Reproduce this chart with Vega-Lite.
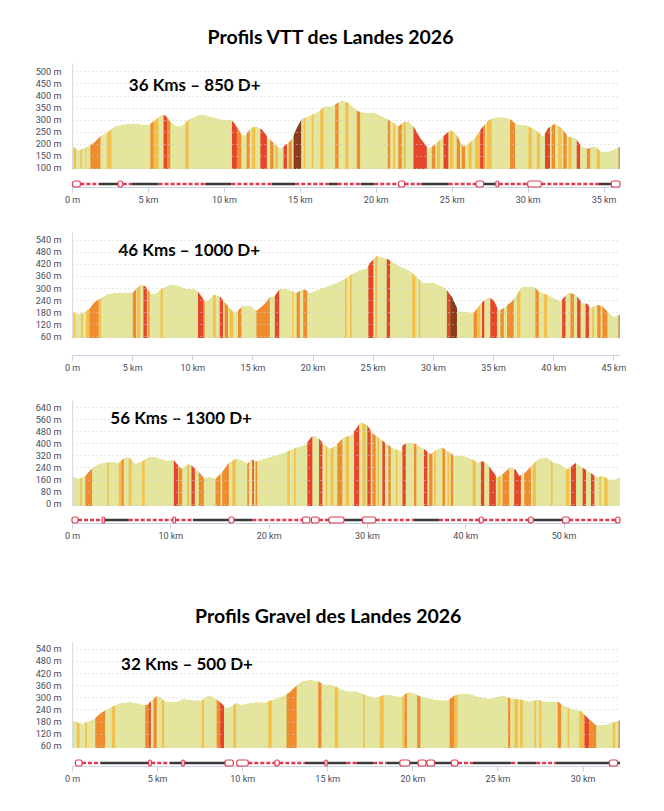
{
  "$schema": "https://vega.github.io/schema/vega-lite/v6.json",
  "padding": {"left": 35, "top": 27, "right": 0, "bottom": 0},
  "background": "white",
  "config": {
    "view": {"stroke": null},
    "font": "Roboto",
    "axis": {"labelFont": "Roboto", "labelColor": "#474d5c", "title": null, "labelOverlap": false, "labelFlush": false},
    "axisY": {"labelOverlap": false, "labelSeparation": 0},
    "axisLeft": {"labelOverlap": false}
  },
  "datasets": {
    "prof1": [
      {"km": 0, "alt": 190}, {"km": 0.44, "alt": 173}, {"km": 0.88, "alt": 183}, {"km": 1.43, "alt": 203},
      {"km": 1.87, "alt": 231}, {"km": 2.42, "alt": 252}, {"km": 2.85, "alt": 272}, {"km": 3.29, "alt": 279},
      {"km": 3.7, "alt": 283}, {"km": 4.17, "alt": 283}, {"km": 4.6, "alt": 280}, {"km": 5.05, "alt": 279},
      {"km": 5.38, "alt": 293}, {"km": 5.93, "alt": 321}, {"km": 6.14, "alt": 317}, {"km": 6.58, "alt": 286},
      {"km": 6.91, "alt": 272}, {"km": 7.24, "alt": 275}, {"km": 7.68, "alt": 300}, {"km": 8.33, "alt": 319},
      {"km": 8.77, "alt": 319}, {"km": 9.43, "alt": 307}, {"km": 10.09, "alt": 297}, {"km": 10.42, "alt": 300},
      {"km": 10.64, "alt": 289}, {"km": 10.97, "alt": 259}, {"km": 11.19, "alt": 234}, {"km": 11.4, "alt": 236},
      {"km": 11.84, "alt": 268}, {"km": 12.17, "alt": 270}, {"km": 12.5, "alt": 259}, {"km": 12.94, "alt": 224},
      {"km": 13.38, "alt": 197}, {"km": 13.71, "alt": 179}, {"km": 14.04, "alt": 194}, {"km": 14.47, "alt": 217},
      {"km": 14.8, "alt": 265}, {"km": 15.13, "alt": 304}, {"km": 15.57, "alt": 314}, {"km": 16.23, "alt": 334},
      {"km": 16.67, "alt": 355}, {"km": 17.1, "alt": 355}, {"km": 17.5, "alt": 369}, {"km": 17.77, "alt": 380},
      {"km": 18.2, "alt": 369}, {"km": 18.86, "alt": 334}, {"km": 19.3, "alt": 328}, {"km": 19.85, "alt": 330},
      {"km": 20.4, "alt": 314}, {"km": 20.83, "alt": 300}, {"km": 21.5, "alt": 272}, {"km": 21.82, "alt": 289},
      {"km": 22.15, "alt": 293}, {"km": 22.48, "alt": 272}, {"km": 22.92, "alt": 224}, {"km": 23.47, "alt": 179},
      {"km": 23.91, "alt": 197}, {"km": 24.45, "alt": 231}, {"km": 24.89, "alt": 256}, {"km": 25.22, "alt": 248},
      {"km": 25.55, "alt": 210}, {"km": 25.77, "alt": 187}, {"km": 26.1, "alt": 201}, {"km": 26.54, "alt": 224},
      {"km": 26.98, "alt": 265}, {"km": 27.41, "alt": 296}, {"km": 27.85, "alt": 310}, {"km": 28.51, "alt": 310},
      {"km": 28.84, "alt": 303}, {"km": 29.28, "alt": 279}, {"km": 29.83, "alt": 279}, {"km": 30.48, "alt": 259},
      {"km": 31.03, "alt": 231}, {"km": 31.36, "alt": 265}, {"km": 31.76, "alt": 283}, {"km": 32.24, "alt": 265},
      {"km": 32.68, "alt": 228}, {"km": 33.12, "alt": 225}, {"km": 33.56, "alt": 187}, {"km": 34.0, "alt": 179},
      {"km": 34.32, "alt": 190}, {"km": 34.54, "alt": 183}, {"km": 34.87, "alt": 165}, {"km": 35.42, "alt": 169},
      {"km": 36.08, "alt": 187}
    ],
    "pente1": [
      {"de": 0.11, "a": 0.27, "classe": "léger"}, {"de": 0.55, "a": 0.66, "classe": "léger"}, {"de": 0.88, "a": 0.94, "classe": "léger"},
      {"de": 1.21, "a": 1.87, "classe": "moyen"}, {"de": 2.3, "a": 2.6, "classe": "léger"}, {"de": 5.16, "a": 5.38, "classe": "moyen"},
      {"de": 5.38, "a": 5.7, "classe": "léger"}, {"de": 6.03, "a": 6.25, "classe": "fort"}, {"de": 6.25, "a": 6.47, "classe": "moyen"},
      {"de": 7.46, "a": 7.68, "classe": "léger"}, {"de": 10.53, "a": 10.86, "classe": "fort"}, {"de": 10.86, "a": 11.15, "classe": "moyen"},
      {"de": 11.5, "a": 11.7, "classe": "moyen"}, {"de": 11.84, "a": 12.06, "classe": "léger"}, {"de": 12.4, "a": 12.83, "classe": "fort"},
      {"de": 13.05, "a": 13.27, "classe": "moyen"}, {"de": 13.38, "a": 13.56, "classe": "léger"}, {"de": 13.93, "a": 14.15, "classe": "fort"},
      {"de": 14.26, "a": 14.47, "classe": "moyen"}, {"de": 14.59, "a": 15.09, "classe": "raide"}, {"de": 15.24, "a": 15.36, "classe": "léger"},
      {"de": 15.79, "a": 15.9, "classe": "léger"}, {"de": 16.34, "a": 16.56, "classe": "léger"}, {"de": 17.33, "a": 17.55, "classe": "moyen"},
      {"de": 17.99, "a": 18.2, "classe": "léger"}, {"de": 18.75, "a": 18.97, "classe": "moyen"}, {"de": 20.79, "a": 20.95, "classe": "moyen"},
      {"de": 21.16, "a": 21.27, "classe": "léger"}, {"de": 21.49, "a": 21.71, "classe": "moyen"}, {"de": 21.82, "a": 21.98, "classe": "léger"},
      {"de": 22.48, "a": 23.36, "classe": "fort"}, {"de": 23.69, "a": 23.91, "classe": "moyen"}, {"de": 24.02, "a": 24.24, "classe": "léger"},
      {"de": 24.46, "a": 24.78, "classe": "fort"}, {"de": 24.89, "a": 25.11, "classe": "léger"}, {"de": 25.33, "a": 25.55, "classe": "moyen"},
      {"de": 25.66, "a": 25.88, "classe": "moyen"}, {"de": 26.1, "a": 26.32, "classe": "léger"}, {"de": 26.54, "a": 26.87, "classe": "léger"},
      {"de": 26.87, "a": 27.08, "classe": "fort"}, {"de": 27.08, "a": 27.19, "classe": "moyen"}, {"de": 27.3, "a": 27.63, "classe": "léger"},
      {"de": 28.84, "a": 29.17, "classe": "moyen"}, {"de": 30.05, "a": 30.27, "classe": "léger"}, {"de": 30.6, "a": 30.81, "classe": "léger"},
      {"de": 31.14, "a": 31.47, "classe": "fort"}, {"de": 31.58, "a": 31.8, "classe": "moyen"}, {"de": 32.02, "a": 32.24, "classe": "léger"},
      {"de": 32.35, "a": 32.57, "classe": "moyen"}, {"de": 32.68, "a": 32.9, "classe": "léger"}, {"de": 33.23, "a": 33.45, "classe": "fort"},
      {"de": 33.9, "a": 34.12, "classe": "moyen"}, {"de": 34.54, "a": 34.76, "classe": "léger"}, {"de": 35.97, "a": 36.08, "classe": "arrivée"}
    ],
    "trace1": [
      {"de": 0.04, "a": 0.55, "type": "repère"}, {"de": 0.55, "a": 1.75, "type": "route"}, {"de": 1.75, "a": 3.03, "type": "piste"},
      {"de": 3.03, "a": 3.34, "type": "repère"}, {"de": 3.34, "a": 3.95, "type": "route"}, {"de": 3.95, "a": 5.7, "type": "piste"},
      {"de": 5.7, "a": 8.77, "type": "route"}, {"de": 8.77, "a": 10.5, "type": "piste"}, {"de": 10.5, "a": 13.16, "type": "route"},
      {"de": 13.16, "a": 14.7, "type": "piste"}, {"de": 14.7, "a": 16.9, "type": "route"}, {"de": 16.9, "a": 17.5, "type": "piste"},
      {"de": 17.5, "a": 19.0, "type": "route"}, {"de": 19.0, "a": 19.9, "type": "piste"}, {"de": 19.9, "a": 21.5, "type": "route"},
      {"de": 21.5, "a": 21.9, "type": "repère"}, {"de": 21.9, "a": 23.0, "type": "route"}, {"de": 23.0, "a": 24.8, "type": "piste"},
      {"de": 24.8, "a": 26.6, "type": "route"}, {"de": 26.6, "a": 27.1, "type": "repère"}, {"de": 27.1, "a": 27.9, "type": "piste"},
      {"de": 27.9, "a": 28.1, "type": "repère"}, {"de": 28.1, "a": 30.0, "type": "route"}, {"de": 30.0, "a": 30.9, "type": "repère"},
      {"de": 30.9, "a": 34.7, "type": "route"}, {"de": 34.7, "a": 35.5, "type": "piste"}, {"de": 35.5, "a": 36.08, "type": "repère"}
    ],
    "prof2": [
      {"km": 0, "alt": 184}, {"km": 0.47, "alt": 171}, {"km": 0.89, "alt": 176}, {"km": 1.44, "alt": 196},
      {"km": 1.86, "alt": 229}, {"km": 2.42, "alt": 250}, {"km": 2.97, "alt": 270}, {"km": 3.94, "alt": 278},
      {"km": 5.05, "alt": 278}, {"km": 5.33, "alt": 295}, {"km": 5.75, "alt": 317}, {"km": 6.11, "alt": 308},
      {"km": 6.58, "alt": 270}, {"km": 6.99, "alt": 275}, {"km": 7.55, "alt": 300}, {"km": 8.25, "alt": 317},
      {"km": 8.8, "alt": 313}, {"km": 9.5, "alt": 295}, {"km": 10.19, "alt": 295}, {"km": 10.47, "alt": 283},
      {"km": 11.03, "alt": 234}, {"km": 11.3, "alt": 239}, {"km": 11.8, "alt": 267}, {"km": 12.28, "alt": 259},
      {"km": 12.97, "alt": 209}, {"km": 13.52, "alt": 176}, {"km": 13.94, "alt": 196}, {"km": 14.17, "alt": 212},
      {"km": 14.91, "alt": 212}, {"km": 15.19, "alt": 192}, {"km": 15.38, "alt": 189}, {"km": 16.03, "alt": 222},
      {"km": 16.44, "alt": 254}, {"km": 16.86, "alt": 262}, {"km": 17.28, "alt": 297}, {"km": 17.83, "alt": 297},
      {"km": 18.39, "alt": 283}, {"km": 18.67, "alt": 275}, {"km": 19.08, "alt": 292}, {"km": 19.42, "alt": 292},
      {"km": 19.78, "alt": 275}, {"km": 20.61, "alt": 295}, {"km": 21.44, "alt": 312}, {"km": 22.55, "alt": 341},
      {"km": 23.39, "alt": 374}, {"km": 24.5, "alt": 399}, {"km": 24.77, "alt": 424}, {"km": 25.33, "alt": 460},
      {"km": 25.75, "alt": 454}, {"km": 26.3, "alt": 441}, {"km": 27.0, "alt": 416}, {"km": 28.11, "alt": 383},
      {"km": 29.22, "alt": 325}, {"km": 30.05, "alt": 328}, {"km": 31.02, "alt": 300}, {"km": 31.58, "alt": 255},
      {"km": 32.14, "alt": 184}, {"km": 32.55, "alt": 184}, {"km": 33.39, "alt": 176}, {"km": 34.08, "alt": 229},
      {"km": 34.64, "alt": 255}, {"km": 35.05, "alt": 239}, {"km": 35.47, "alt": 187}, {"km": 35.89, "alt": 201},
      {"km": 36.58, "alt": 234}, {"km": 37.41, "alt": 305}, {"km": 38.38, "alt": 308}, {"km": 38.8, "alt": 283},
      {"km": 39.77, "alt": 259}, {"km": 40.6, "alt": 234}, {"km": 41.3, "alt": 278}, {"km": 41.86, "alt": 267},
      {"km": 42.41, "alt": 226}, {"km": 42.83, "alt": 222}, {"km": 43.1, "alt": 201}, {"km": 43.66, "alt": 217},
      {"km": 44.08, "alt": 209}, {"km": 44.63, "alt": 176}, {"km": 45.05, "alt": 156}, {"km": 45.55, "alt": 168}
    ],
    "pente2": [
      {"de": 0.15, "a": 0.28, "classe": "léger"}, {"de": 0.75, "a": 0.89, "classe": "léger"}, {"de": 1.17, "a": 1.45, "classe": "léger"},
      {"de": 1.45, "a": 2.22, "classe": "moyen"}, {"de": 2.22, "a": 2.42, "classe": "léger"}, {"de": 5.05, "a": 5.33, "classe": "moyen"},
      {"de": 5.39, "a": 5.67, "classe": "léger"}, {"de": 5.94, "a": 6.22, "classe": "fort"}, {"de": 6.3, "a": 6.44, "classe": "moyen"},
      {"de": 7.36, "a": 7.55, "classe": "léger"}, {"de": 10.47, "a": 10.89, "classe": "fort"}, {"de": 10.89, "a": 11.03, "classe": "moyen"},
      {"de": 11.72, "a": 11.94, "classe": "léger"}, {"de": 12.28, "a": 12.55, "classe": "fort"}, {"de": 12.69, "a": 12.97, "classe": "moyen"},
      {"de": 13.11, "a": 13.39, "classe": "léger"}, {"de": 13.8, "a": 14.08, "classe": "moyen"}, {"de": 15.33, "a": 16.44, "classe": "moyen"},
      {"de": 16.86, "a": 17.22, "classe": "fort"}, {"de": 18.3, "a": 18.4, "classe": "léger"}, {"de": 18.67, "a": 18.94, "classe": "moyen"},
      {"de": 19.22, "a": 19.55, "classe": "moyen"}, {"de": 22.69, "a": 22.83, "classe": "léger"}, {"de": 23.11, "a": 23.25, "classe": "léger"},
      {"de": 24.63, "a": 25.05, "classe": "fort"}, {"de": 25.19, "a": 25.39, "classe": "léger"}, {"de": 26.16, "a": 26.44, "classe": "fort"},
      {"de": 28.27, "a": 28.55, "classe": "léger"}, {"de": 28.83, "a": 28.94, "classe": "léger"}, {"de": 31.16, "a": 31.44, "classe": "fort"},
      {"de": 31.44, "a": 32.0, "classe": "raide"}, {"de": 33.39, "a": 33.66, "classe": "moyen"}, {"de": 33.66, "a": 33.94, "classe": "léger"},
      {"de": 34.08, "a": 34.27, "classe": "fort"}, {"de": 34.77, "a": 35.33, "classe": "fort"}, {"de": 35.61, "a": 35.89, "classe": "moyen"},
      {"de": 36.16, "a": 36.72, "classe": "moyen"}, {"de": 36.99, "a": 37.27, "classe": "léger"}, {"de": 38.52, "a": 38.8, "classe": "moyen"},
      {"de": 39.22, "a": 39.49, "classe": "léger"}, {"de": 40.74, "a": 41.02, "classe": "fort"}, {"de": 41.44, "a": 41.72, "classe": "moyen"},
      {"de": 41.99, "a": 42.27, "classe": "fort"}, {"de": 42.69, "a": 42.97, "classe": "fort"}, {"de": 43.24, "a": 43.38, "classe": "léger"},
      {"de": 43.66, "a": 43.94, "classe": "moyen"}, {"de": 44.08, "a": 44.5, "classe": "moyen"}, {"de": 45.4, "a": 45.55, "classe": "arrivée"}
    ],
    "prof3": [
      {"km": 0, "alt": 183}, {"km": 0.68, "alt": 166}, {"km": 1.36, "alt": 183}, {"km": 1.87, "alt": 223},
      {"km": 2.55, "alt": 260}, {"km": 3.23, "alt": 271}, {"km": 4.08, "alt": 276}, {"km": 4.76, "alt": 271},
      {"km": 5.43, "alt": 309}, {"km": 5.94, "alt": 300}, {"km": 6.45, "alt": 265}, {"km": 7.13, "alt": 282},
      {"km": 7.81, "alt": 309}, {"km": 8.49, "alt": 309}, {"km": 9.51, "alt": 287}, {"km": 10.36, "alt": 289},
      {"km": 10.86, "alt": 249}, {"km": 11.14, "alt": 232}, {"km": 11.71, "alt": 260}, {"km": 12.05, "alt": 260},
      {"km": 12.73, "alt": 223}, {"km": 13.41, "alt": 172}, {"km": 14.09, "alt": 177}, {"km": 14.6, "alt": 166},
      {"km": 15.28, "alt": 210}, {"km": 15.96, "alt": 271}, {"km": 16.64, "alt": 298}, {"km": 17.32, "alt": 289},
      {"km": 17.83, "alt": 265}, {"km": 18.23, "alt": 294}, {"km": 18.74, "alt": 280}, {"km": 19.35, "alt": 294},
      {"km": 20.71, "alt": 320}, {"km": 21.73, "alt": 342}, {"km": 22.75, "alt": 371}, {"km": 23.77, "alt": 393},
      {"km": 24.28, "alt": 437}, {"km": 24.62, "alt": 452}, {"km": 25.13, "alt": 430}, {"km": 25.64, "alt": 393},
      {"km": 26.3, "alt": 364}, {"km": 26.82, "alt": 386}, {"km": 27.67, "alt": 441}, {"km": 28.35, "alt": 452},
      {"km": 28.86, "alt": 492}, {"km": 29.36, "alt": 541}, {"km": 30.04, "alt": 519}, {"km": 30.55, "alt": 466},
      {"km": 31.23, "alt": 437}, {"km": 32.08, "alt": 393}, {"km": 32.76, "alt": 364}, {"km": 33.44, "alt": 349},
      {"km": 33.61, "alt": 386}, {"km": 34.12, "alt": 404}, {"km": 34.79, "alt": 400}, {"km": 35.64, "alt": 371},
      {"km": 36.49, "alt": 327}, {"km": 37.17, "alt": 364}, {"km": 37.68, "alt": 371}, {"km": 38.36, "alt": 342},
      {"km": 38.87, "alt": 320}, {"km": 39.72, "alt": 320}, {"km": 40.74, "alt": 294}, {"km": 41.25, "alt": 271},
      {"km": 41.76, "alt": 282}, {"km": 42.27, "alt": 265}, {"km": 42.77, "alt": 216}, {"km": 43.28, "alt": 172},
      {"km": 43.96, "alt": 205}, {"km": 44.64, "alt": 245}, {"km": 45.15, "alt": 223}, {"km": 45.49, "alt": 183},
      {"km": 46.17, "alt": 210}, {"km": 46.85, "alt": 260}, {"km": 47.52, "alt": 300}, {"km": 48.37, "alt": 305},
      {"km": 48.88, "alt": 276}, {"km": 49.56, "alt": 265}, {"km": 50.41, "alt": 227}, {"km": 50.75, "alt": 245},
      {"km": 51.26, "alt": 271}, {"km": 51.94, "alt": 238}, {"km": 52.62, "alt": 210}, {"km": 53.3, "alt": 179},
      {"km": 53.98, "alt": 183}, {"km": 54.65, "alt": 161}, {"km": 55.27, "alt": 161}, {"km": 55.74, "alt": 177}
    ],
    "pente3": [
      {"de": 0.85, "a": 1.02, "classe": "léger"}, {"de": 1.36, "a": 2.04, "classe": "moyen"}, {"de": 3.57, "a": 3.74, "classe": "léger"},
      {"de": 4.76, "a": 5.03, "classe": "léger"}, {"de": 5.03, "a": 5.26, "classe": "moyen"}, {"de": 5.77, "a": 6.04, "classe": "léger"},
      {"de": 7.13, "a": 7.4, "classe": "léger"}, {"de": 10.36, "a": 10.8, "classe": "fort"}, {"de": 10.86, "a": 11.2, "classe": "moyen"},
      {"de": 11.71, "a": 11.95, "classe": "léger"}, {"de": 12.15, "a": 12.49, "classe": "fort"}, {"de": 12.9, "a": 13.41, "classe": "moyen"},
      {"de": 14.6, "a": 15.11, "classe": "moyen"}, {"de": 15.28, "a": 15.96, "classe": "moyen"}, {"de": 16.3, "a": 16.64, "classe": "léger"},
      {"de": 17.83, "a": 18.0, "classe": "moyen"}, {"de": 18.34, "a": 18.5, "classe": "fort"}, {"de": 18.67, "a": 18.84, "classe": "moyen"},
      {"de": 21.9, "a": 22.14, "classe": "léger"}, {"de": 22.58, "a": 22.75, "classe": "léger"}, {"de": 23.94, "a": 24.45, "classe": "fort"},
      {"de": 25.13, "a": 25.47, "classe": "fort"}, {"de": 25.8, "a": 25.97, "classe": "léger"}, {"de": 26.3, "a": 26.6, "classe": "léger"},
      {"de": 26.99, "a": 27.5, "classe": "moyen"}, {"de": 27.84, "a": 28.18, "classe": "léger"}, {"de": 28.69, "a": 29.2, "classe": "fort"},
      {"de": 29.54, "a": 29.88, "classe": "léger"}, {"de": 30.04, "a": 30.38, "classe": "fort"}, {"de": 30.55, "a": 30.89, "classe": "moyen"},
      {"de": 31.06, "a": 31.23, "classe": "léger"}, {"de": 31.57, "a": 31.84, "classe": "fort"}, {"de": 32.18, "a": 32.42, "classe": "moyen"},
      {"de": 32.93, "a": 33.1, "classe": "léger"}, {"de": 33.61, "a": 33.95, "classe": "fort"}, {"de": 34.79, "a": 35.03, "classe": "moyen"},
      {"de": 35.8, "a": 36.15, "classe": "fort"}, {"de": 36.32, "a": 36.66, "classe": "moyen"}, {"de": 36.83, "a": 37.0, "classe": "léger"},
      {"de": 37.68, "a": 37.95, "classe": "moyen"}, {"de": 38.19, "a": 38.36, "classe": "léger"}, {"de": 38.53, "a": 38.77, "classe": "moyen"},
      {"de": 40.74, "a": 41.08, "classe": "léger"}, {"de": 41.59, "a": 41.93, "classe": "fort"}, {"de": 42.44, "a": 43.11, "classe": "fort"},
      {"de": 43.28, "a": 43.62, "classe": "léger"}, {"de": 43.79, "a": 44.47, "classe": "moyen"}, {"de": 44.98, "a": 45.66, "classe": "fort"},
      {"de": 46.0, "a": 46.68, "classe": "moyen"}, {"de": 46.85, "a": 47.19, "classe": "léger"}, {"de": 48.71, "a": 48.88, "classe": "léger"},
      {"de": 50.24, "a": 50.58, "classe": "léger"}, {"de": 50.75, "a": 51.26, "classe": "fort"}, {"de": 51.94, "a": 52.28, "classe": "fort"},
      {"de": 52.79, "a": 53.13, "classe": "fort"}, {"de": 53.64, "a": 53.81, "classe": "léger"}, {"de": 54.14, "a": 54.48, "classe": "léger"}
    ],
    "trace3": [
      {"de": 0, "a": 0.61, "type": "repère"}, {"de": 0.61, "a": 3.06, "type": "route"}, {"de": 3.06, "a": 3.33, "type": "repère"},
      {"de": 3.33, "a": 5.77, "type": "piste"}, {"de": 5.77, "a": 10.26, "type": "route"}, {"de": 10.26, "a": 10.53, "type": "repère"},
      {"de": 10.53, "a": 12.3, "type": "route"}, {"de": 12.3, "a": 15.96, "type": "piste"}, {"de": 15.96, "a": 16.47, "type": "repère"},
      {"de": 16.47, "a": 18.34, "type": "piste"}, {"de": 18.34, "a": 23.43, "type": "route"}, {"de": 23.43, "a": 24.2, "type": "repère"},
      {"de": 24.35, "a": 25.13, "type": "repère"}, {"de": 25.13, "a": 26.14, "type": "route"}, {"de": 26.14, "a": 27.67, "type": "repère"},
      {"de": 27.67, "a": 29.54, "type": "piste"}, {"de": 29.54, "a": 30.89, "type": "repère"}, {"de": 30.89, "a": 34.79, "type": "route"},
      {"de": 34.79, "a": 37.34, "type": "piste"}, {"de": 37.34, "a": 41.42, "type": "route"}, {"de": 41.42, "a": 41.83, "type": "repère"},
      {"de": 41.83, "a": 46.44, "type": "route"}, {"de": 46.44, "a": 46.92, "type": "repère"}, {"de": 46.92, "a": 49.9, "type": "piste"},
      {"de": 49.9, "a": 50.58, "type": "repère"}, {"de": 50.58, "a": 55.3, "type": "route"}, {"de": 55.3, "a": 55.74, "type": "repère"}
    ],
    "prof4": [
      {"km": 0, "alt": 187}, {"km": 0.39, "alt": 175}, {"km": 0.59, "alt": 169}, {"km": 0.88, "alt": 178},
      {"km": 1.27, "alt": 192}, {"km": 1.66, "alt": 219}, {"km": 1.95, "alt": 236}, {"km": 2.34, "alt": 252},
      {"km": 2.83, "alt": 272}, {"km": 3.42, "alt": 277}, {"km": 3.91, "alt": 270}, {"km": 4.4, "alt": 261},
      {"km": 4.69, "alt": 285}, {"km": 4.98, "alt": 307}, {"km": 5.18, "alt": 302}, {"km": 5.47, "alt": 280},
      {"km": 6.16, "alt": 277}, {"km": 6.55, "alt": 293}, {"km": 7.13, "alt": 285}, {"km": 7.62, "alt": 285},
      {"km": 8.02, "alt": 310}, {"km": 8.31, "alt": 302}, {"km": 8.7, "alt": 277}, {"km": 9.05, "alt": 247},
      {"km": 9.29, "alt": 252}, {"km": 9.68, "alt": 272}, {"km": 9.97, "alt": 264}, {"km": 10.46, "alt": 272},
      {"km": 10.85, "alt": 277}, {"km": 11.34, "alt": 274}, {"km": 11.93, "alt": 293}, {"km": 12.51, "alt": 310},
      {"km": 12.81, "alt": 326}, {"km": 13.1, "alt": 351}, {"km": 13.49, "alt": 379}, {"km": 13.98, "alt": 387},
      {"km": 14.47, "alt": 379}, {"km": 14.86, "alt": 359}, {"km": 15.2, "alt": 362}, {"km": 15.54, "alt": 351},
      {"km": 16.13, "alt": 330}, {"km": 16.71, "alt": 330}, {"km": 17.3, "alt": 310}, {"km": 17.79, "alt": 298},
      {"km": 18.28, "alt": 310}, {"km": 18.67, "alt": 313}, {"km": 19.35, "alt": 302}, {"km": 19.75, "alt": 326},
      {"km": 20.04, "alt": 321}, {"km": 20.44, "alt": 305}, {"km": 20.73, "alt": 298}, {"km": 21.6, "alt": 285},
      {"km": 22.1, "alt": 285}, {"km": 22.39, "alt": 305}, {"km": 22.78, "alt": 318}, {"km": 23.36, "alt": 316},
      {"km": 23.95, "alt": 302}, {"km": 24.53, "alt": 293}, {"km": 25.32, "alt": 310}, {"km": 25.71, "alt": 297},
      {"km": 26.0, "alt": 293}, {"km": 26.39, "alt": 289}, {"km": 26.88, "alt": 280}, {"km": 27.37, "alt": 289},
      {"km": 27.66, "alt": 280}, {"km": 28.54, "alt": 280}, {"km": 28.84, "alt": 261}, {"km": 29.42, "alt": 241},
      {"km": 29.91, "alt": 233}, {"km": 30.3, "alt": 198}, {"km": 30.8, "alt": 162}, {"km": 31.38, "alt": 165},
      {"km": 32.2, "alt": 187}
    ],
    "pente4": [
      {"de": 0.29, "a": 0.44, "classe": "léger"}, {"de": 0.78, "a": 0.88, "classe": "léger"}, {"de": 1.37, "a": 1.95, "classe": "moyen"},
      {"de": 2.34, "a": 2.54, "classe": "léger"}, {"de": 4.3, "a": 4.5, "classe": "moyen"}, {"de": 4.5, "a": 4.63, "classe": "fort"},
      {"de": 4.79, "a": 4.98, "classe": "moyen"}, {"de": 5.28, "a": 5.41, "classe": "léger"}, {"de": 7.62, "a": 7.76, "classe": "léger"},
      {"de": 8.5, "a": 8.7, "classe": "moyen"}, {"de": 8.7, "a": 8.93, "classe": "fort"}, {"de": 9.48, "a": 9.64, "classe": "léger"},
      {"de": 11.53, "a": 11.73, "classe": "léger"}, {"de": 12.61, "a": 13.2, "classe": "moyen"}, {"de": 14.47, "a": 14.66, "classe": "moyen"},
      {"de": 15.44, "a": 15.64, "classe": "léger"}, {"de": 17.1, "a": 17.2, "classe": "léger"}, {"de": 18.08, "a": 18.32, "classe": "léger"},
      {"de": 19.41, "a": 19.55, "classe": "léger"}, {"de": 19.55, "a": 19.68, "classe": "moyen"}, {"de": 20.28, "a": 20.47, "classe": "moyen"},
      {"de": 22.19, "a": 22.48, "classe": "moyen"}, {"de": 22.48, "a": 22.67, "classe": "léger"}, {"de": 25.62, "a": 25.75, "classe": "moyen"},
      {"de": 26.0, "a": 26.2, "classe": "léger"}, {"de": 26.33, "a": 26.49, "classe": "léger"}, {"de": 27.17, "a": 27.27, "classe": "léger"},
      {"de": 27.46, "a": 27.58, "classe": "léger"}, {"de": 28.54, "a": 28.74, "classe": "moyen"}, {"de": 29.12, "a": 29.22, "classe": "léger"},
      {"de": 29.81, "a": 30.11, "classe": "léger"}, {"de": 30.11, "a": 30.4, "classe": "fort"}, {"de": 30.4, "a": 30.8, "classe": "moyen"},
      {"de": 31.77, "a": 31.92, "classe": "léger"}, {"de": 32.1, "a": 32.2, "classe": "arrivée"}
    ],
    "trace4": [
      {"de": 0.2, "a": 0.59, "type": "repère"}, {"de": 0.59, "a": 1.66, "type": "route"}, {"de": 1.66, "a": 4.5, "type": "piste"},
      {"de": 4.5, "a": 4.66, "type": "repère"}, {"de": 4.66, "a": 5.76, "type": "route"}, {"de": 5.76, "a": 6.45, "type": "piste"},
      {"de": 6.45, "a": 6.6, "type": "repère"}, {"de": 6.6, "a": 8.99, "type": "piste"}, {"de": 8.99, "a": 9.48, "type": "repère"},
      {"de": 9.68, "a": 10.36, "type": "repère"}, {"de": 10.36, "a": 11.92, "type": "route"}, {"de": 11.92, "a": 12.18, "type": "repère"},
      {"de": 12.18, "a": 13.68, "type": "route"}, {"de": 13.68, "a": 14.86, "type": "piste"}, {"de": 14.86, "a": 15.0, "type": "repère"},
      {"de": 15.0, "a": 16.13, "type": "piste"}, {"de": 16.13, "a": 16.71, "type": "route"}, {"de": 16.71, "a": 17.69, "type": "piste"},
      {"de": 17.69, "a": 18.47, "type": "route"}, {"de": 18.47, "a": 19.26, "type": "piste"}, {"de": 19.26, "a": 19.84, "type": "repère"},
      {"de": 19.84, "a": 20.33, "type": "piste"}, {"de": 20.33, "a": 20.8, "type": "repère"}, {"de": 20.85, "a": 21.31, "type": "repère"},
      {"de": 21.31, "a": 22.29, "type": "piste"}, {"de": 22.29, "a": 22.68, "type": "repère"}, {"de": 22.68, "a": 23.56, "type": "route"},
      {"de": 23.56, "a": 25.81, "type": "piste"}, {"de": 25.81, "a": 26.2, "type": "route"}, {"de": 26.2, "a": 27.27, "type": "piste"},
      {"de": 27.27, "a": 28.44, "type": "route"}, {"de": 28.44, "a": 31.57, "type": "piste"}, {"de": 31.57, "a": 32.06, "type": "repère"},
      {"de": 32.06, "a": 32.2, "type": "piste"}
    ]
  },
  "spacing": 66,
  "vconcat": [
    {
      "title": {"text": "Profils VTT des Landes 2026", "font": "Lato", "fontSize": 19.5, "fontWeight": "bold", "color": "#000000", "anchor": "middle", "offset": 15},
      "spacing": 28,
      "vconcat": [
        {
          "spacing": 7,
          "vconcat": [
            {
              "width": 548, "height": 106,
              "layer": [
                {
                  "data": {"name": "prof1"},
                  "mark": {"type": "area", "color": "#e5e69d"},
                  "encoding": {
                    "x": {"field": "km", "type": "quantitative", "scale": {"domain": [0, 36.08], "nice": false, "zero": false}, "axis": null},
                    "y": {"field": "alt", "type": "quantitative", "scale": {"domain": [95, 535], "nice": false, "zero": false},
                      "axis": {"values": [100, 150, 200, 250, 300, 350, 400, 450, 500], "labelExpr": "datum.value + ' m'", "labelOverlap": false, "ticks": false, "labelPadding": 11, "labelFontSize": 9.2, "domainColor": "#d3d9e5", "grid": true, "gridColor": "#cfcfcf", "gridDash": [1, 3], "zindex": 1}},
                    "y2": {"datum": 95}
                  }
                },
                {
                  "data": {"name": "pente1"},
                  "mark": {"type": "rect"},
                  "encoding": {
                    "x": {"field": "de", "type": "quantitative"},
                    "x2": {"field": "a"},
                    "y": {"datum": 535, "type": "quantitative",
                      "axis": {"values": [100, 150, 200, 250, 300, 350, 400, 450, 500], "labelExpr": "datum.value + ' m'", "labelOverlap": false, "ticks": false, "labelPadding": 11, "labelFontSize": 9.2, "domainColor": "#d3d9e5", "grid": true, "gridColor": "#cfcfcf", "gridDash": [1, 3], "zindex": 1}},
                    "y2": {"datum": 95},
                    "color": {"field": "classe", "type": "nominal", "legend": null,
                      "scale": {"domain": ["léger", "moyen", "fort", "raide", "arrivée"], "range": ["#f3c14b", "#ef8c2f", "#e5452b", "#8c3a1c", "#c8a06a"]}}
                  }
                },
                {
                  "data": {"name": "prof1"},
                  "mark": {"type": "area", "color": "#ffffff"},
                  "encoding": {
                    "x": {"field": "km", "type": "quantitative"},
                    "y": {"field": "alt", "type": "quantitative",
                      "axis": {"values": [100, 150, 200, 250, 300, 350, 400, 450, 500], "labelExpr": "datum.value + ' m'", "labelOverlap": false, "ticks": false, "labelPadding": 11, "labelFontSize": 9.2, "domainColor": "#d3d9e5", "grid": true, "gridColor": "#cfcfcf", "gridDash": [1, 3], "zindex": 1}},
                    "y2": {"datum": 535}
                  }
                },
                {
                  "data": {"values": [{"km": 8.08, "alt": 441, "libelle": "36 Kms – 850 D+"}]},
                  "mark": {"type": "text", "font": "Lato", "fontWeight": "bold", "fontSize": 17, "color": "#000000"},
                  "encoding": {
                    "x": {"field": "km", "type": "quantitative"},
                    "y": {"field": "alt", "type": "quantitative",
                      "axis": {"values": [100, 150, 200, 250, 300, 350, 400, 450, 500], "labelExpr": "datum.value + ' m'", "labelOverlap": false, "ticks": false, "labelPadding": 11, "labelFontSize": 9.2, "domainColor": "#d3d9e5", "grid": true, "gridColor": "#cfcfcf", "gridDash": [1, 3], "zindex": 1}},
                    "text": {"field": "libelle"}
                  }
                }
              ]
            },
            {
              "width": 548, "height": 6,
              "layer": [
                {
                  "data": {"name": "trace1"},
                  "transform": [{"filter": "datum.type == 'piste'"}],
                  "mark": {"type": "rule", "color": "#3a3a3a", "strokeWidth": 2.5},
                  "encoding": {
                    "x": {"field": "de", "type": "quantitative", "scale": {"domain": [0, 36.08], "nice": false, "zero": false},
                      "axis": {"values": [0, 5, 10, 15, 20, 25, 30, 35], "labelExpr": "datum.value == 0 ? '0 m' : datum.value + ' km'", "labelOverlap": false, "labelFlush": false, "labelFontSize": 9, "labelPadding": 3, "tickSize": 5, "tickColor": "#c9d2e3", "domainColor": "#c9d2e3", "grid": false}},
                    "x2": {"field": "a"},
                    "y": {"datum": 0.5, "scale": {"domain": [0, 1]}, "axis": null}
                  }
                },
                {
                  "data": {"name": "trace1"},
                  "transform": [{"filter": "datum.type == 'route'"}],
                  "mark": {"type": "rule", "color": "#e3384f", "strokeWidth": 2.5, "strokeDash": [4, 2]},
                  "encoding": {
                    "x": {"field": "de", "type": "quantitative"},
                    "x2": {"field": "a"},
                    "y": {"datum": 0.5}
                  }
                },
                {
                  "data": {"name": "trace1"},
                  "transform": [{"filter": "datum.type == 'repère'"}],
                  "mark": {"type": "rect", "fill": "#ffffff", "stroke": "#e3384f", "strokeWidth": 1.2, "cornerRadius": 2},
                  "encoding": {
                    "x": {"field": "de", "type": "quantitative"},
                    "x2": {"field": "a"},
                    "y": {"datum": 0},
                    "y2": {"datum": 1}
                  }
                }
              ]
            }
          ]
        },
        {
          "spacing": 7,
          "vconcat": [
            {
              "width": 548, "height": 106,
              "layer": [
                {
                  "data": {"name": "prof2"},
                  "mark": {"type": "area", "color": "#e5e69d"},
                  "encoding": {
                    "x": {"field": "km", "type": "quantitative", "scale": {"domain": [0, 45.55], "nice": false, "zero": false}, "axis": null},
                    "y": {"field": "alt", "type": "quantitative", "scale": {"domain": [52, 578], "nice": false, "zero": false},
                      "axis": {"values": [60, 120, 180, 240, 300, 360, 420, 480, 540], "labelExpr": "datum.value + ' m'", "labelOverlap": false, "ticks": false, "labelPadding": 11, "labelFontSize": 9.2, "domainColor": "#d3d9e5", "grid": true, "gridColor": "#cfcfcf", "gridDash": [1, 3], "zindex": 1}},
                    "y2": {"datum": 52}
                  }
                },
                {
                  "data": {"name": "pente2"},
                  "mark": {"type": "rect"},
                  "encoding": {
                    "x": {"field": "de", "type": "quantitative"},
                    "x2": {"field": "a"},
                    "y": {"datum": 578, "type": "quantitative",
                      "axis": {"values": [60, 120, 180, 240, 300, 360, 420, 480, 540], "labelExpr": "datum.value + ' m'", "labelOverlap": false, "ticks": false, "labelPadding": 11, "labelFontSize": 9.2, "domainColor": "#d3d9e5", "grid": true, "gridColor": "#cfcfcf", "gridDash": [1, 3], "zindex": 1}},
                    "y2": {"datum": 52},
                    "color": {"field": "classe", "type": "nominal", "legend": null,
                      "scale": {"domain": ["léger", "moyen", "fort", "raide", "arrivée"], "range": ["#f3c14b", "#ef8c2f", "#e5452b", "#8c3a1c", "#c8a06a"]}}
                  }
                },
                {
                  "data": {"name": "prof2"},
                  "mark": {"type": "area", "color": "#ffffff"},
                  "encoding": {
                    "x": {"field": "km", "type": "quantitative"},
                    "y": {"field": "alt", "type": "quantitative",
                      "axis": {"values": [60, 120, 180, 240, 300, 360, 420, 480, 540], "labelExpr": "datum.value + ' m'", "labelOverlap": false, "ticks": false, "labelPadding": 11, "labelFontSize": 9.2, "domainColor": "#d3d9e5", "grid": true, "gridColor": "#cfcfcf", "gridDash": [1, 3], "zindex": 1}},
                    "y2": {"datum": 578}
                  }
                },
                {
                  "data": {"values": [{"km": 9.75, "alt": 482, "libelle": "46 Kms – 1000 D+"}]},
                  "mark": {"type": "text", "font": "Lato", "fontWeight": "bold", "fontSize": 17, "color": "#000000"},
                  "encoding": {
                    "x": {"field": "km", "type": "quantitative"},
                    "y": {"field": "alt", "type": "quantitative",
                      "axis": {"values": [60, 120, 180, 240, 300, 360, 420, 480, 540], "labelExpr": "datum.value + ' m'", "labelOverlap": false, "ticks": false, "labelPadding": 11, "labelFontSize": 9.2, "domainColor": "#d3d9e5", "grid": true, "gridColor": "#cfcfcf", "gridDash": [1, 3], "zindex": 1}},
                    "text": {"field": "libelle"}
                  }
                }
              ]
            },
            {
              "width": 548, "height": 6,
              "data": {"values": []},
              "mark": {"type": "rule", "color": "#3a3a3a"},
              "encoding": {
                "x": {"field": "de", "type": "quantitative", "scale": {"domain": [0, 45.55], "nice": false, "zero": false},
                  "axis": {"values": [0, 5, 10, 15, 20, 25, 30, 35, 40, 45], "labelExpr": "datum.value == 0 ? '0 m' : datum.value + ' km'", "labelOverlap": false, "labelFlush": false, "labelFontSize": 9, "labelPadding": 3, "tickSize": 5, "tickColor": "#c9d2e3", "domainColor": "#c9d2e3", "grid": false}},
                "x2": {"field": "a"},
                "y": {"datum": 0.5, "scale": {"domain": [0, 1]}, "axis": null}
              }
            }
          ]
        },
        {
          "spacing": 7,
          "vconcat": [
            {
              "width": 548, "height": 106,
              "layer": [
                {
                  "data": {"name": "prof3"},
                  "mark": {"type": "area", "color": "#e5e69d"},
                  "encoding": {
                    "x": {"field": "km", "type": "quantitative", "scale": {"domain": [0, 55.74], "nice": false, "zero": false}, "axis": null},
                    "y": {"field": "alt", "type": "quantitative", "scale": {"domain": [-15, 687], "nice": false, "zero": false},
                      "axis": {"values": [0, 80, 160, 240, 320, 400, 480, 560, 640], "labelExpr": "datum.value + ' m'", "labelOverlap": false, "ticks": false, "labelPadding": 11, "labelFontSize": 9.2, "domainColor": "#d3d9e5", "grid": true, "gridColor": "#cfcfcf", "gridDash": [1, 3], "zindex": 1}},
                    "y2": {"datum": -15}
                  }
                },
                {
                  "data": {"name": "pente3"},
                  "mark": {"type": "rect"},
                  "encoding": {
                    "x": {"field": "de", "type": "quantitative"},
                    "x2": {"field": "a"},
                    "y": {"datum": 687, "type": "quantitative",
                      "axis": {"values": [0, 80, 160, 240, 320, 400, 480, 560, 640], "labelExpr": "datum.value + ' m'", "labelOverlap": false, "ticks": false, "labelPadding": 11, "labelFontSize": 9.2, "domainColor": "#d3d9e5", "grid": true, "gridColor": "#cfcfcf", "gridDash": [1, 3], "zindex": 1}},
                    "y2": {"datum": -15},
                    "color": {"field": "classe", "type": "nominal", "legend": null,
                      "scale": {"domain": ["léger", "moyen", "fort", "raide", "arrivée"], "range": ["#f3c14b", "#ef8c2f", "#e5452b", "#8c3a1c", "#c8a06a"]}}
                  }
                },
                {
                  "data": {"name": "prof3"},
                  "mark": {"type": "area", "color": "#ffffff"},
                  "encoding": {
                    "x": {"field": "km", "type": "quantitative"},
                    "y": {"field": "alt", "type": "quantitative",
                      "axis": {"values": [0, 80, 160, 240, 320, 400, 480, 560, 640], "labelExpr": "datum.value + ' m'", "labelOverlap": false, "ticks": false, "labelPadding": 11, "labelFontSize": 9.2, "domainColor": "#d3d9e5", "grid": true, "gridColor": "#cfcfcf", "gridDash": [1, 3], "zindex": 1}},
                    "y2": {"datum": 687}
                  }
                },
                {
                  "data": {"values": [{"km": 11.1, "alt": 563, "libelle": "56 Kms – 1300 D+"}]},
                  "mark": {"type": "text", "font": "Lato", "fontWeight": "bold", "fontSize": 17, "color": "#000000"},
                  "encoding": {
                    "x": {"field": "km", "type": "quantitative"},
                    "y": {"field": "alt", "type": "quantitative",
                      "axis": {"values": [0, 80, 160, 240, 320, 400, 480, 560, 640], "labelExpr": "datum.value + ' m'", "labelOverlap": false, "ticks": false, "labelPadding": 11, "labelFontSize": 9.2, "domainColor": "#d3d9e5", "grid": true, "gridColor": "#cfcfcf", "gridDash": [1, 3], "zindex": 1}},
                    "text": {"field": "libelle"}
                  }
                }
              ]
            },
            {
              "width": 548, "height": 6,
              "layer": [
                {
                  "data": {"name": "trace3"},
                  "transform": [{"filter": "datum.type == 'piste'"}],
                  "mark": {"type": "rule", "color": "#3a3a3a", "strokeWidth": 2.5},
                  "encoding": {
                    "x": {"field": "de", "type": "quantitative", "scale": {"domain": [0, 55.74], "nice": false, "zero": false},
                      "axis": {"values": [0, 10, 20, 30, 40, 50], "labelExpr": "datum.value == 0 ? '0 m' : datum.value + ' km'", "labelOverlap": false, "labelFlush": false, "labelFontSize": 9, "labelPadding": 3, "tickSize": 5, "tickColor": "#c9d2e3", "domainColor": "#c9d2e3", "grid": false}},
                    "x2": {"field": "a"},
                    "y": {"datum": 0.5, "scale": {"domain": [0, 1]}, "axis": null}
                  }
                },
                {
                  "data": {"name": "trace3"},
                  "transform": [{"filter": "datum.type == 'route'"}],
                  "mark": {"type": "rule", "color": "#e3384f", "strokeWidth": 2.5, "strokeDash": [4, 2]},
                  "encoding": {
                    "x": {"field": "de", "type": "quantitative"},
                    "x2": {"field": "a"},
                    "y": {"datum": 0.5}
                  }
                },
                {
                  "data": {"name": "trace3"},
                  "transform": [{"filter": "datum.type == 'repère'"}],
                  "mark": {"type": "rect", "fill": "#ffffff", "stroke": "#e3384f", "strokeWidth": 1.2, "cornerRadius": 2},
                  "encoding": {
                    "x": {"field": "de", "type": "quantitative"},
                    "x2": {"field": "a"},
                    "y": {"datum": 0},
                    "y2": {"datum": 1}
                  }
                }
              ]
            }
          ]
        }
      ]
    },
    {
      "title": {"text": "Profils Gravel des Landes 2026", "font": "Lato", "fontSize": 19.5, "fontWeight": "bold", "color": "#000000", "anchor": "middle", "offset": 15},
      "vconcat": [
        {
          "spacing": 7,
          "vconcat": [
            {
              "width": 548, "height": 106,
              "layer": [
                {
                  "data": {"name": "prof4"},
                  "mark": {"type": "area", "color": "#e5e69d"},
                  "encoding": {
                    "x": {"field": "km", "type": "quantitative", "scale": {"domain": [0, 32.2], "nice": false, "zero": false}, "axis": null},
                    "y": {"field": "alt", "type": "quantitative", "scale": {"domain": [50, 573], "nice": false, "zero": false},
                      "axis": {"values": [60, 120, 180, 240, 300, 360, 420, 480, 540], "labelExpr": "datum.value + ' m'", "labelOverlap": false, "ticks": false, "labelPadding": 11, "labelFontSize": 9.2, "domainColor": "#d3d9e5", "grid": true, "gridColor": "#cfcfcf", "gridDash": [1, 3], "zindex": 1}},
                    "y2": {"datum": 50}
                  }
                },
                {
                  "data": {"name": "pente4"},
                  "mark": {"type": "rect"},
                  "encoding": {
                    "x": {"field": "de", "type": "quantitative"},
                    "x2": {"field": "a"},
                    "y": {"datum": 573, "type": "quantitative",
                      "axis": {"values": [60, 120, 180, 240, 300, 360, 420, 480, 540], "labelExpr": "datum.value + ' m'", "labelOverlap": false, "ticks": false, "labelPadding": 11, "labelFontSize": 9.2, "domainColor": "#d3d9e5", "grid": true, "gridColor": "#cfcfcf", "gridDash": [1, 3], "zindex": 1}},
                    "y2": {"datum": 50},
                    "color": {"field": "classe", "type": "nominal", "legend": null,
                      "scale": {"domain": ["léger", "moyen", "fort", "raide", "arrivée"], "range": ["#f3c14b", "#ef8c2f", "#e5452b", "#8c3a1c", "#c8a06a"]}}
                  }
                },
                {
                  "data": {"name": "prof4"},
                  "mark": {"type": "area", "color": "#ffffff"},
                  "encoding": {
                    "x": {"field": "km", "type": "quantitative"},
                    "y": {"field": "alt", "type": "quantitative",
                      "axis": {"values": [60, 120, 180, 240, 300, 360, 420, 480, 540], "labelExpr": "datum.value + ' m'", "labelOverlap": false, "ticks": false, "labelPadding": 11, "labelFontSize": 9.2, "domainColor": "#d3d9e5", "grid": true, "gridColor": "#cfcfcf", "gridDash": [1, 3], "zindex": 1}},
                    "y2": {"datum": 573}
                  }
                },
                {
                  "data": {"values": [{"km": 6.76, "alt": 458, "libelle": "32 Kms – 500 D+"}]},
                  "mark": {"type": "text", "font": "Lato", "fontWeight": "bold", "fontSize": 17, "color": "#000000"},
                  "encoding": {
                    "x": {"field": "km", "type": "quantitative"},
                    "y": {"field": "alt", "type": "quantitative",
                      "axis": {"values": [60, 120, 180, 240, 300, 360, 420, 480, 540], "labelExpr": "datum.value + ' m'", "labelOverlap": false, "ticks": false, "labelPadding": 11, "labelFontSize": 9.2, "domainColor": "#d3d9e5", "grid": true, "gridColor": "#cfcfcf", "gridDash": [1, 3], "zindex": 1}},
                    "text": {"field": "libelle"}
                  }
                }
              ]
            },
            {
              "width": 548, "height": 6,
              "layer": [
                {
                  "data": {"name": "trace4"},
                  "transform": [{"filter": "datum.type == 'piste'"}],
                  "mark": {"type": "rule", "color": "#3a3a3a", "strokeWidth": 2.5},
                  "encoding": {
                    "x": {"field": "de", "type": "quantitative", "scale": {"domain": [0, 32.2], "nice": false, "zero": false},
                      "axis": {"values": [0, 5, 10, 15, 20, 25, 30], "labelExpr": "datum.value == 0 ? '0 m' : datum.value + ' km'", "labelOverlap": false, "labelFlush": false, "labelFontSize": 9, "labelPadding": 3, "tickSize": 5, "tickColor": "#c9d2e3", "domainColor": "#c9d2e3", "grid": false}},
                    "x2": {"field": "a"},
                    "y": {"datum": 0.5, "scale": {"domain": [0, 1]}, "axis": null}
                  }
                },
                {
                  "data": {"name": "trace4"},
                  "transform": [{"filter": "datum.type == 'route'"}],
                  "mark": {"type": "rule", "color": "#e3384f", "strokeWidth": 2.5, "strokeDash": [4, 2]},
                  "encoding": {
                    "x": {"field": "de", "type": "quantitative"},
                    "x2": {"field": "a"},
                    "y": {"datum": 0.5}
                  }
                },
                {
                  "data": {"name": "trace4"},
                  "transform": [{"filter": "datum.type == 'repère'"}],
                  "mark": {"type": "rect", "fill": "#ffffff", "stroke": "#e3384f", "strokeWidth": 1.2, "cornerRadius": 2},
                  "encoding": {
                    "x": {"field": "de", "type": "quantitative"},
                    "x2": {"field": "a"},
                    "y": {"datum": 0},
                    "y2": {"datum": 1}
                  }
                }
              ]
            }
          ]
        }
      ]
    }
  ]
}
